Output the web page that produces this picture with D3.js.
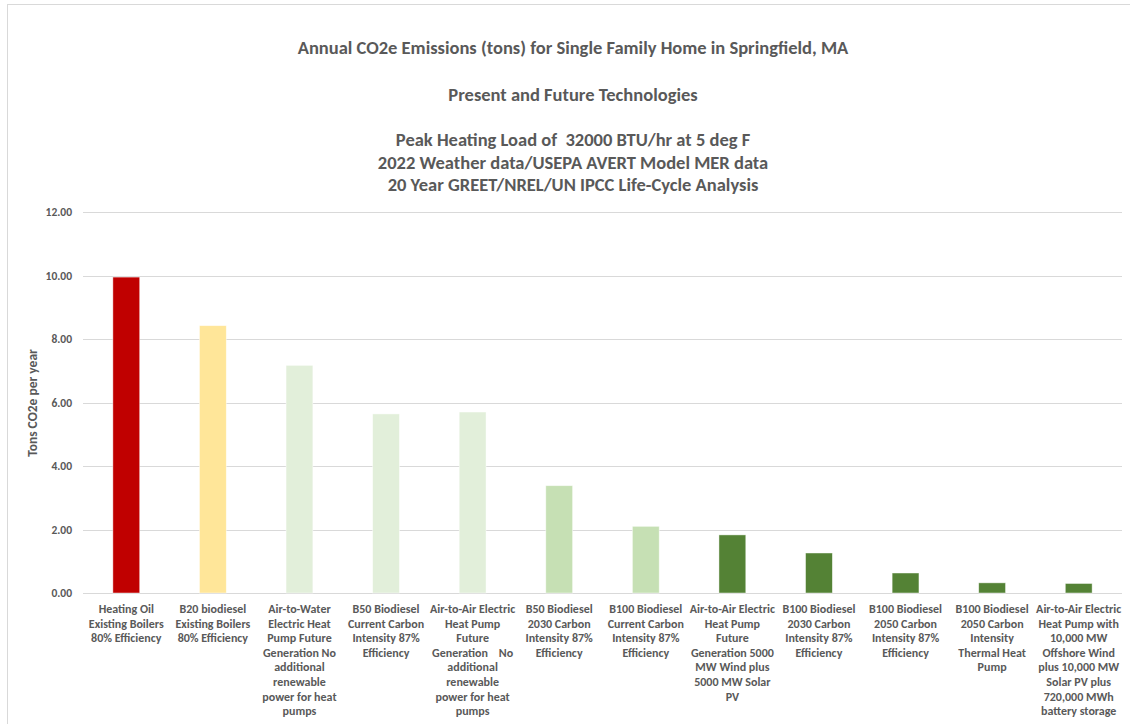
<!DOCTYPE html>
<html>
<head>
<meta charset="utf-8">
<script src="https://cdn.jsdelivr.net/npm/d3@7"></script>
<style>
  html, body { margin: 0; padding: 0; background: #fff; }
  svg text { font-family: Carlito, "Liberation Sans Narrow", "Liberation Sans", sans-serif; fill: #595959; font-weight: bold; }
</style>
</head>
<body>
<svg id="chart" width="1130" height="724"></svg>
<script>
// Category labels, one array of lines per bar
const categories = [
  ["Heating Oil", "Existing Boilers", "80% Efficiency"],
  ["B20 biodiesel", "Existing Boilers", "80% Efficiency"],
  ["Air-to-Water", "Electric Heat", "Pump Future", "Generation No", "additional", "renewable", "power for heat", "pumps"],
  ["B50 Biodiesel", "Current Carbon", "Intensity 87%", "Efficiency"],
  ["Air-to-Air Electric", "Heat Pump", "Future", "Generation    No", "additional", "renewable", "power for heat", "pumps"],
  ["B50 Biodiesel", "2030 Carbon", "Intensity 87%", "Efficiency"],
  ["B100 Biodiesel", "Current Carbon", "Intensity 87%", "Efficiency"],
  ["Air-to-Air Electric", "Heat Pump", "Future", "Generation 5000", "MW Wind plus", "5000 MW Solar", "PV"],
  ["B100 Biodiesel", "2030 Carbon", "Intensity 87%", "Efficiency"],
  ["B100 Biodiesel", "2050 Carbon", "Intensity 87%", "Efficiency"],
  ["B100 Biodiesel", "2050 Carbon", "Intensity", "Thermal Heat", "Pump"],
  ["Air-to-Air Electric", "Heat Pump with", "10,000 MW", "Offshore Wind", "plus 10,000 MW", "Solar PV plus", "720,000 MWh", "battery storage"]
];

// Annual emissions, tons CO2e per year
const emissions = [9.95, 8.42, 7.17, 5.64, 5.70, 3.38, 2.10, 1.83, 1.26, 0.63, 0.32, 0.30];

// Bar fill per category
const barColors = ["#C00000", "#FFE699", "#E2EFDA", "#E2EFDA", "#E2EFDA", "#C6E0B4", "#C6E0B4",
                   "#548235", "#548235", "#548235", "#548235", "#548235"];

const yTicks = [0, 2, 4, 6, 8, 10, 12];

const titleLines = [
  "Annual CO2e Emissions (tons) for Single Family Home in Springfield, MA",
  "Present and Future Technologies",
  "Peak Heating Load of  32000 BTU/hr at 5 deg F",
  "2022 Weather data/USEPA AVERT Model MER data",
  "20 Year GREET/NREL/UN IPCC Life-Cycle Analysis"
];

const svg = d3.select("#chart");

// chart frame
svg.append("rect")
  .attr("x", 7.5).attr("y", 4.5)
  .attr("width", 1140).attr("height", 740)
  .attr("fill", "none").attr("stroke", "#D9D9D9");

const plot = { left: 83, right: 1122, top: 212, bottom: 593 };

const x = d3.scaleBand()
  .domain(d3.range(categories.length))
  .range([plot.left, plot.right])
  .paddingInner(0.69)
  .paddingOuter(0.345);

const y = d3.scaleLinear().domain([0, 12]).range([plot.bottom, plot.top]);

// gridlines
svg.append("g")
  .selectAll("line")
  .data(yTicks)
  .join("line")
  .attr("x1", plot.left).attr("x2", plot.right)
  .attr("y1", d => Math.round(y(d)) + 0.5).attr("y2", d => Math.round(y(d)) + 0.5)
  .attr("stroke", "#D9D9D9").attr("stroke-width", 1);

// y axis labels
const yAxis = d3.axisLeft(y).tickValues(yTicks).tickFormat(d3.format(".2f")).tickSize(0).tickPadding(0);
svg.append("g")
  .attr("transform", `translate(${plot.left - 11},0)`)
  .call(yAxis)
  .call(g => g.select(".domain").remove())
  .selectAll("text")
  .attr("font-size", 11.5)
  .attr("fill", "#595959")
  .style("font-family", "Carlito, 'Liberation Sans Narrow', 'Liberation Sans', sans-serif")
  .style("font-weight", "bold");

// y axis title
svg.append("text")
  .attr("transform", `translate(37,403) rotate(-90)`)
  .attr("text-anchor", "middle")
  .attr("font-size", 13.5)
  .text("Tons CO2e per year");

// bars
svg.append("g")
  .selectAll("rect")
  .data(emissions)
  .join("rect")
  .attr("x", (d, i) => x(i))
  .attr("width", x.bandwidth())
  .attr("y", d => y(d))
  .attr("height", d => y(0) - y(d))
  .attr("fill", (d, i) => barColors[i])
  .attr("stroke", "#ffffff")
  .attr("stroke-opacity", 0.6)
  .attr("stroke-width", 0.75);

// category labels
const lab = svg.append("g")
  .selectAll("text")
  .data(categories)
  .join("text")
  .attr("text-anchor", "middle")
  .attr("font-size", 12)
  .attr("xml:space", "preserve")
  .style("white-space", "pre");
lab.selectAll("tspan")
  .data((d, i) => d.map(line => ({ line, i })))
  .join("tspan")
  .attr("x", d => x(d.i) + x.bandwidth() / 2)
  .attr("y", (d, j) => 613 + j * 14.6)
  .text(d => d.line);

// titles
const titleY = [54, 101, 146, 169, 191];
svg.append("g")
  .selectAll("text")
  .data(titleLines)
  .join("text")
  .attr("x", 573)
  .attr("y", (d, i) => titleY[i])
  .attr("text-anchor", "middle")
  .attr("font-size", 18.5)
  .attr("xml:space", "preserve")
  .style("white-space", "pre")
  .text(d => d);
</script>
</body>
</html>
